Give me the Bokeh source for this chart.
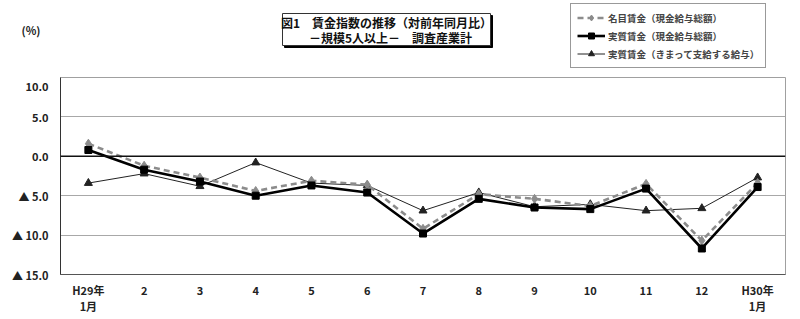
from bokeh.plotting import figure
from bokeh.layouts import column
from bokeh.models import (Range1d, FixedTicker, Span, Legend, LegendItem, ColumnDataSource, LinearAxis)
from bokeh.core.properties import value
from bokeh.embed import file_html
from bokeh.resources import INLINE

categories = ["H29年\n1月", "2", "3", "4", "5", "6", "7", "8", "9", "10", "11", "12", "H30年\n1月"]
nominal = [1.6, -1.2, -2.7, -4.4, -3.1, -3.6, -9.2, -4.8, -5.4, -6.3, -3.5, -10.7, -3.4]
real_total = [0.8, -1.7, -3.2, -5.0, -3.7, -4.6, -9.8, -5.4, -6.5, -6.7, -4.1, -11.7, -3.9]
real_sched = [-3.4, -2.2, -3.8, -0.8, -3.4, -3.7, -6.9, -4.6, -6.4, -6.1, -6.9, -6.6, -2.7]
y_ticks = [10, 5, 0, -5, -10, -15]
y_tick_labels = ["10.0", "5.0", "0.0", "▲ 5.0", "▲ 10.0", "▲ 15.0"]
series_names = ["名目賃金（現金給与総額）", "実質賃金（現金給与総額）", "実質賃金（きまって支給する給与）"]
title_lines = ["図1　賃金指数の推移（対前年同月比）", "－規模5人以上－　調査産業計"]
unit_label = "(%)"

FONT = "Noto Sans CJK JP"
xs = list(range(len(categories)))
W, H, TOP_H = 800, 319, 77
LEFT, RIGHT = 60, 15

STY_NOM = dict(color="#8c8c8c", width=2.6, dash="6 4", marker="diamond", size=9)
STY_RT = dict(color="#000000", width=2.6, dash="solid", marker="square", size=7)
STY_RS = dict(color="#222222", width=1, dash="solid", marker="triangle", size=8)

# ---------------- header strip (title box, unit, legend) ----------------
top = figure(width=W, height=TOP_H, output_backend="svg", toolbar_location=None,
             x_range=Range1d(LEFT, W - RIGHT), y_range=Range1d(TOP_H, 0),
             x_axis_location=None, y_axis_location=None,
             min_border_left=LEFT, min_border_right=RIGHT, min_border_top=0, min_border_bottom=0)
top.outline_line_color = None
top.grid.grid_line_color = None
top.background_fill_color = "white"
top.border_fill_color = "white"

unit_axis = LinearAxis(ticker=FixedTicker(ticks=[29]), major_label_overrides={29: unit_label})
unit_axis.axis_line_color = None
unit_axis.major_tick_line_color = None
unit_axis.minor_tick_line_color = None
unit_axis.major_label_standoff = 14
unit_axis.major_label_text_font = FONT
unit_axis.major_label_text_font_style = "bold"
unit_axis.major_label_text_font_size = "11px"
unit_axis.major_label_text_color = "#222222"
top.add_layout(unit_axis, "left")

top.quad(left=[284], right=[492], top=[15], bottom=[47], fill_color="#000000", line_color="#000000")
top.quad(left=[282], right=[490], top=[13], bottom=[45], fill_color="white", line_color="#333333", line_width=1)
top.text(x=[386, 390], y=[22, 37], text=title_lines, text_align="center", text_baseline="middle",
         text_font=value(FONT), text_font_style="bold", text_font_size="12px", text_color="#111111")

def dummy(fig, s):
    l = fig.line([-1000, -999], [-1000, -1000], line_color=s["color"], line_width=s["width"], line_dash=s["dash"])
    m = fig.scatter([-1000], [-1000], marker=s["marker"], size=s["size"], fill_color=s["color"], line_color=s["color"])
    return [l, m]

legend = Legend(items=[
    LegendItem(label=series_names[0], renderers=dummy(top, STY_NOM)),
    LegendItem(label=series_names[1], renderers=dummy(top, STY_RT)),
    LegendItem(label=series_names[2], renderers=dummy(top, STY_RS)),
], location=(570 - LEFT, TOP_H - 68))
legend.label_text_font = FONT
legend.label_text_font_style = "bold"
legend.label_text_font_size = "9.5px"
legend.label_height = 15
legend.glyph_height = 15
legend.glyph_width = 28
legend.label_standoff = 3
legend.spacing = 3
legend.padding = 6
legend.margin = 0
legend.border_line_color = "#333333"
legend.border_line_width = 1
legend.background_fill_color = "white"
legend.background_fill_alpha = 1
top.add_layout(legend, "center")

# ---------------- main chart ----------------
p = figure(width=W, height=H - TOP_H, output_backend="svg", toolbar_location=None,
           x_range=Range1d(-0.5, len(categories) - 0.5), y_range=Range1d(-15, 10),
           min_border_left=LEFT, min_border_right=RIGHT, min_border_top=0, min_border_bottom=45)
p.background_fill_color = "white"
p.border_fill_color = "white"
p.outline_line_color = "#a0a0a0"
p.outline_line_width = 1

p.xaxis.ticker = FixedTicker(ticks=xs)
p.xaxis.major_label_overrides = {i: c for i, c in zip(xs, categories)}
p.yaxis.ticker = FixedTicker(ticks=y_ticks)
p.yaxis.major_label_overrides = {t: l for t, l in zip(y_ticks, y_tick_labels)}
for ax in (p.xaxis, p.yaxis):
    ax.major_tick_line_color = None
    ax.minor_tick_line_color = None
    ax.major_label_text_font = FONT
    ax.major_label_text_font_style = "bold"
    ax.major_label_text_font_size = "11px"
    ax.major_label_text_color = "#222222"
p.yaxis.axis_line_color = "#333333"
p.xaxis.axis_line_color = "#555555"
p.yaxis.major_label_standoff = 6
p.xaxis.major_label_standoff = 1
p.xaxis.major_label_text_line_height = 1.0

p.xgrid.grid_line_color = None
p.ygrid.ticker = FixedTicker(ticks=[10, 5, -5, -10])
p.ygrid.grid_line_color = "#a8a8a8"
p.ygrid.grid_line_width = 1

p.add_layout(Span(location=0, dimension="width", line_color="#111111", line_width=1.6))

src = ColumnDataSource(dict(x=xs, nom=nominal, rt=real_total, rs=real_sched))

def series(col, s):
    p.line("x", col, source=src, line_color=s["color"], line_width=s["width"], line_dash=s["dash"])
    p.scatter("x", col, source=src, marker=s["marker"], size=s["size"],
              fill_color=s["color"], line_color=s["color"])

series("rs", STY_RS)
series("nom", STY_NOM)
series("rt", STY_RT)

layout = column(top, p, spacing=0)
open("out.html", "w").write(file_html(layout, INLINE))
